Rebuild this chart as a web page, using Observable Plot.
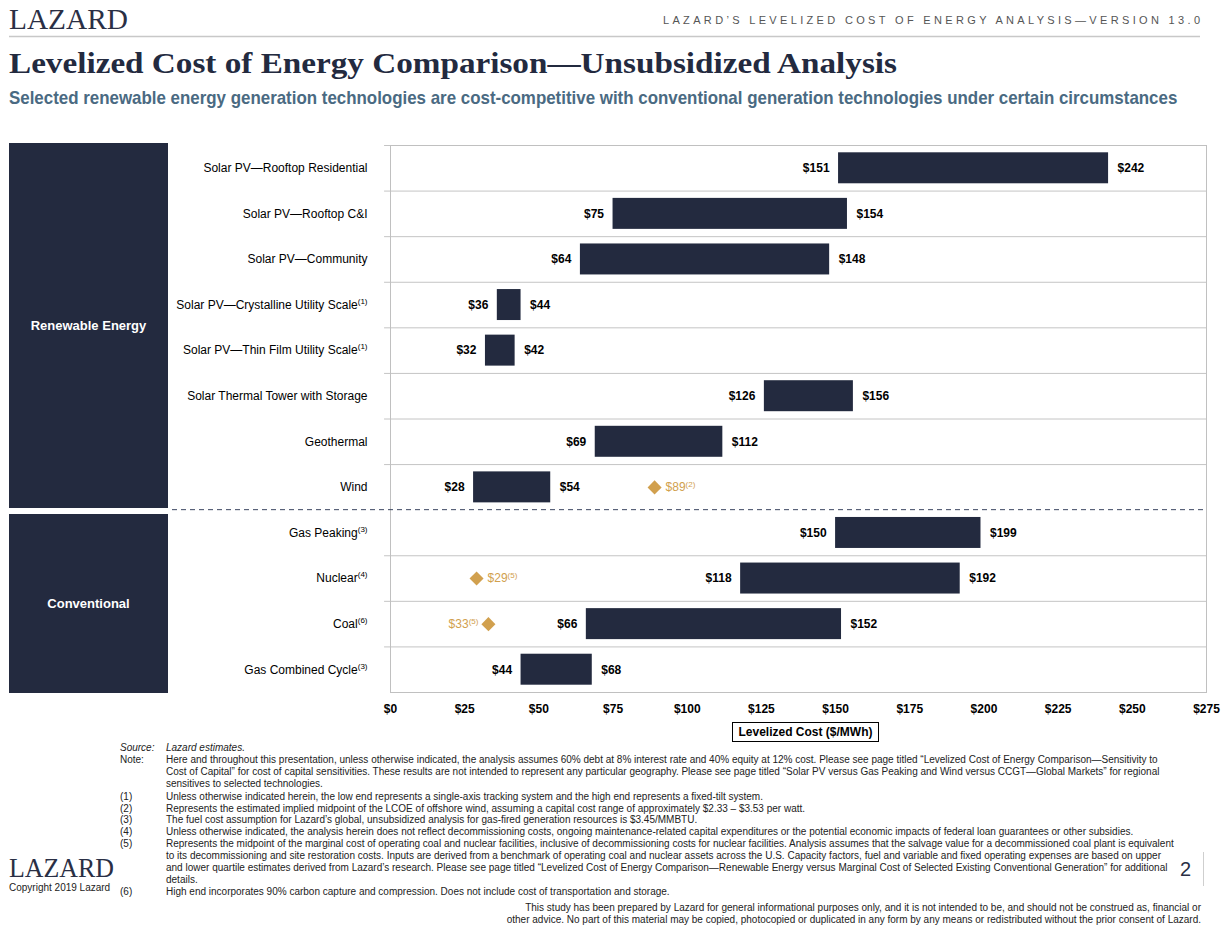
<!DOCTYPE html>
<html>
<head>
<meta charset="utf-8">
<script src="https://cdn.jsdelivr.net/npm/d3@7"></script>
<script src="https://cdn.jsdelivr.net/npm/@observablehq/plot@0.6"></script>
<style>
  html, body { margin: 0; padding: 0; background: #fff; }
  #page { position: relative; width: 1227px; height: 929px; overflow: hidden; font-family: Arial, "Liberation Sans", sans-serif; }
  #deco { position: absolute; left: 0; top: 0; display: block; }
  #chart { position: absolute; left: 0; top: 130px; line-height: 0; }
  #chart svg { display: block; }
  .grp { position: absolute; left: 9px; width: 159px; background: #232a3f; color: #fff; font: bold 13px Arial, "Liberation Sans", sans-serif; display: flex; align-items: center; justify-content: center; }
  #xlabel { position: absolute; left: 732px; top: 722px; width: 147px; height: 20px; box-sizing: border-box; border: 1px solid #000; font: bold 12px Arial, "Liberation Sans", sans-serif; text-align: center; line-height: 18px; background: #fff; white-space: nowrap; }
</style>
</head>
<body>
<div id="page">
  <svg id="deco" width="1227" height="929" font-family="Arial, 'Liberation Sans', sans-serif">
    <text x="9" y="29" font-family="'Liberation Serif', serif" font-size="29" fill="#2a2f45" textLength="119" lengthAdjust="spacingAndGlyphs">LAZARD</text>
    <text x="663" y="24" font-size="11" fill="#555" textLength="537" lengthAdjust="spacing">LAZARD’S LEVELIZED COST OF ENERGY ANALYSIS—VERSION 13.0</text>
    <line x1="9" x2="1200" y1="36.5" y2="36.5" stroke="#c8c8c8" stroke-width="1.5"/>
    <text x="9" y="73" font-family="'Liberation Serif', serif" font-weight="bold" font-size="30" fill="#232a3f" textLength="888" lengthAdjust="spacingAndGlyphs">Levelized Cost of Energy Comparison—Unsubsidized Analysis</text>
    <text id="subtitle" x="0" y="0" font-family="'Liberation Sans Narrow', 'Arial Narrow', Arial, sans-serif" font-weight="bold" font-size="18" fill="#4a6a82">Selected renewable energy generation technologies are cost-competitive with conventional generation technologies under certain circumstances</text>

    <g font-size="10" fill="#222">
      <text x="120" y="751" font-style="italic">Source:</text>
      <text x="166" y="751" font-style="italic">Lazard estimates.</text>
      <text x="120" y="763">Note:</text>
      <text x="166" y="763">Here and throughout this presentation, unless otherwise indicated, the analysis assumes 60% debt at 8% interest rate and 40% equity at 12% cost. Please see page titled “Levelized Cost of Energy Comparison—Sensitivity to</text>
      <text x="166" y="775">Cost of Capital” for cost of capital sensitivities. These results are not intended to represent any particular geography. Please see page titled “Solar PV versus Gas Peaking and Wind versus CCGT—Global Markets” for regional</text>
      <text x="166" y="787">sensitives to selected technologies.</text>
      <text x="120" y="800">(1)</text>
      <text x="166" y="800">Unless otherwise indicated herein, the low end represents a single-axis tracking system and the high end represents a fixed-tilt system.</text>
      <text x="120" y="812">(2)</text>
      <text x="166" y="812">Represents the estimated implied midpoint of the LCOE of offshore wind, assuming a capital cost range of approximately $2.33 – $3.53 per watt.</text>
      <text x="120" y="823">(3)</text>
      <text x="166" y="823">The fuel cost assumption for Lazard’s global, unsubsidized analysis for gas-fired generation resources is $3.45/MMBTU.</text>
      <text x="120" y="835">(4)</text>
      <text x="166" y="835">Unless otherwise indicated, the analysis herein does not reflect decommissioning costs, ongoing maintenance-related capital expenditures or the potential economic impacts of federal loan guarantees or other subsidies.</text>
      <text x="120" y="847">(5)</text>
      <text x="166" y="847">Represents the midpoint of the marginal cost of operating coal and nuclear facilities, inclusive of decommissioning costs for nuclear facilities. Analysis assumes that the salvage value for a decommissioned coal plant is equivalent</text>
      <text x="166" y="859">to its decommissioning and site restoration costs. Inputs are derived from a benchmark of operating coal and nuclear assets across the U.S. Capacity factors, fuel and variable and fixed operating expenses are based on upper</text>
      <text x="166" y="871">and lower quartile estimates derived from Lazard’s research. Please see page titled “Levelized Cost of Energy Comparison—Renewable Energy versus Marginal Cost of Selected Existing Conventional Generation” for additional</text>
      <text x="166" y="883">details.</text>
      <text x="120" y="895">(6)</text>
      <text x="166" y="895">High end incorporates 90% carbon capture and compression. Does not include cost of transportation and storage.</text>
      <text x="1201" y="911" text-anchor="end">This study has been prepared by Lazard for general informational purposes only, and it is not intended to be, and should not be construed as, financial or</text>
      <text x="1201" y="923" text-anchor="end">other advice. No part of this material may be copied, photocopied or duplicated in any form by any means or redistributed without the prior consent of Lazard.</text>
    </g>
    <text x="9" y="877" font-family="'Liberation Serif', serif" font-size="27" fill="#2a2f45" textLength="105" lengthAdjust="spacingAndGlyphs">LAZARD</text>
    <text x="9" y="891" font-size="10" fill="#222">Copyright 2019 Lazard</text>
    <text x="1180" y="876" font-family="'Liberation Sans Narrow', Arial, sans-serif" font-size="20" fill="#2a2f45">2</text>
    <line x1="1203.5" x2="1203.5" y1="852" y2="886" stroke="#cfcfcf" stroke-width="1"/>
  </svg>

  <div class="grp" style="top:143px;height:365px;">Renewable Energy</div>
  <div class="grp" style="top:514px;height:179px;">Conventional</div>
  <div id="chart"></div>
  <div id="xlabel">Levelized Cost ($/MWh)</div>
</div>

<script>
// ---- data ----
const names = [
  "Solar PV—Rooftop Residential",
  "Solar PV—Rooftop C&I",
  "Solar PV—Community",
  "Solar PV—Crystalline Utility Scale",
  "Solar PV—Thin Film Utility Scale",
  "Solar Thermal Tower with Storage",
  "Geothermal",
  "Wind",
  "Gas Peaking",
  "Nuclear",
  "Coal",
  "Gas Combined Cycle"
];
const nameNotes = ["", "", "", "(1)", "(1)", "", "", "", "(3)", "(4)", "(6)", "(3)"];
const lowValues  = [151, 75, 64, 36, 32, 126, 69, 28, 150, 118, 66, 44];
const highValues = [242, 154, 148, 44, 42, 156, 112, 54, 199, 192, 152, 68];

const markerRows   = ["Wind", "Nuclear", "Coal"];
const markerValues = [89, 29, 33];
const markerNotes  = ["(2)", "(5)", "(5)"];
const markerLabelLeft = [false, false, true];

const xTicks = [0, 25, 50, 75, 100, 125, 150, 175, 200, 225, 250, 275];

// ---- subtitle fit (condensed look) ----
(function() {
  const st = document.getElementById("subtitle");
  const w = st.getComputedTextLength();
  const sx = 1169 / w;
  st.setAttribute("transform", `translate(9,104) scale(${sx},1)`);
})();

// ---- tables ----
const rows = names.map((n, i) => ({name: n, low: lowValues[i], high: highValues[i]}));
const markers = markerRows.map((r, i) => ({name: r, value: markerValues[i], note: markerNotes[i], left: markerLabelLeft[i]}));
const markersR = markers.filter(m => !m.left);
const markersL = markers.filter(m => m.left);

const navy = "#232a3f";
const gold = "#d1a04e";
const W = 1227, H = 622, mT = 15, mB = 60, mL = 390, mR = 21;
const step = (H - mT - mB) / names.length;
const gridRows = names.filter((n, i) => i !== 8);

const chart = Plot.plot({
  width: W, height: H,
  marginTop: mT, marginBottom: mB, marginLeft: mL, marginRight: mR,
  style: {fontFamily: "Arial, 'Liberation Sans', sans-serif", fontSize: "12px", background: "transparent", color: "#000"},
  x: {domain: [0, 275]},
  y: {domain: names, padding: 0, round: false},
  marks: [
    Plot.ruleY(gridRows, {y: d => d, x1: -2, x2: 275, dy: -step / 2, stroke: "#c4c4c4", strokeWidth: 1}),
    Plot.frame({stroke: "#c0c0c0", strokeWidth: 1}),
    Plot.barX(rows, {x1: "low", x2: "high", y: "name", fill: navy, insetTop: 7.3, insetBottom: 7.3}),
    Plot.text(rows, {x: "low", y: "name", text: d => "$" + d.low, textAnchor: "end", dx: -9, fontWeight: "bold", fontSize: 12, fill: "#000"}),
    Plot.text(rows, {x: "high", y: "name", text: d => "$" + d.high, textAnchor: "start", dx: 9, fontWeight: "bold", fontSize: 12, fill: "#000"}),
    Plot.dot(markers, {x: "value", y: "name", symbol: "square", r: 5.6, rotate: 45, fill: gold, stroke: "none"}),
    Plot.text(markersR, {x: "value", y: "name", text: d => "$" + d.value, textAnchor: "start", dx: 11, fontSize: 12, fill: gold, className: "mlabelR"}),
    Plot.text(markersL, {x: "value", y: "name", text: d => "$" + d.value, textAnchor: "end", dx: -10, fontSize: 12, fill: gold, className: "mlabelL"}),
    Plot.axisY({tickSize: 0, tickPadding: 23, label: null, fontSize: 12}),
    Plot.axisX({ticks: xTicks, tickFormat: d => "$" + d, tickSize: 0, tickPadding: 12, label: null, fontSize: 12})
  ]
});
document.getElementById("chart").append(chart);

const svg = d3.select(chart);
// bold x tick labels
svg.selectAll('g[aria-label="x-axis tick label"] text').attr("font-weight", "bold");
// superscripts on row labels
svg.selectAll('g[aria-label="y-axis tick label"] text').each(function() {
  const t = this.textContent;
  const i = names.indexOf(t);
  if (i >= 0 && nameNotes[i]) {
    d3.select(this).append("tspan").attr("font-size", 8).attr("dy", -5).text(nameNotes[i]);
  }
});
// marker label superscripts
svg.selectAll(".mlabelR text").each(function(_, i) {
  d3.select(this).append("tspan").attr("font-size", 8).attr("dy", -4).text(markersR[i].note);
});
svg.selectAll(".mlabelL text").each(function(_, i) {
  d3.select(this).append("tspan").attr("font-size", 8).attr("dy", -4).text(markersL[i].note);
});
// dashed separator between renewable and conventional
const ys = chart.scale("y");
const xs = chart.scale("x");
const ySep = ys.apply("Gas Peaking");
svg.append("line")
  .attr("x1", 172).attr("x2", xs.apply(275))
  .attr("y1", ySep).attr("y2", ySep)
  .attr("stroke", "#3b4560").attr("stroke-width", 1)
  .attr("stroke-dasharray", "5,4");
</script>
</body>
</html>
